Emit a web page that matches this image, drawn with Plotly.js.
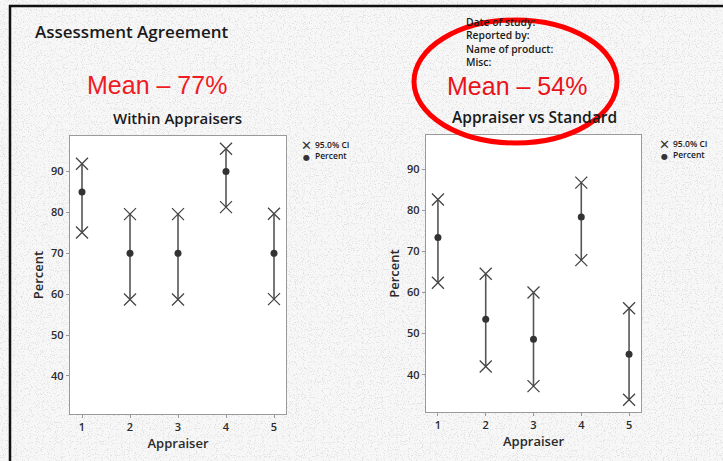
<!DOCTYPE html>
<html>
<head>
<meta charset="utf-8">
<script src="https://cdn.plot.ly/plotly-3.0.1.min.js"></script>
<style>
  html, body { margin: 0; padding: 0; width: 723px; height: 461px; overflow: hidden; }
  body {
    background-color: #f7f7f7;
    background-image: url("data:image/svg+xml;utf8,<svg xmlns='http://www.w3.org/2000/svg' width='723' height='461'><filter id='n'><feTurbulence type='fractalNoise' baseFrequency='0.85' numOctaves='2' seed='3' stitchTiles='stitch'/><feColorMatrix type='matrix' values='0 0 0 0 0.6  0 0 0 0 0.6  0 0 0 0 0.6  0 0 0 10 -5.8'/></filter><rect width='100%' height='100%' filter='url(%23n)' opacity='0.45'/></svg>");
  }
  #chart { width: 723px; height: 461px; }
</style>
</head>
<body>
<div id="chart"></div>
<script>
// ---- data ----
var appraisers = [1, 2, 3, 4, 5];
var tickValsX = [1, 2, 3, 4, 5];
var tickValsY = [40, 50, 60, 70, 80, 90];

var withinPercent = [85, 70, 70, 90, 70];
var withinLower   = [75.1, 58.7, 58.7, 81.3, 58.8];
var withinUpper   = [91.9, 79.6, 79.6, 95.6, 79.7];

var vsStdPercent = [73.4, 53.5, 48.6, 78.4, 45.0];
var vsStdLower   = [62.4, 42.0, 37.2, 67.9, 33.9];
var vsStdUpper   = [82.7, 64.6, 60.0, 86.8, 56.2];

var mainTitle = "Assessment Agreement";
var leftTitle = "Within Appraisers";
var rightTitle = "Appraiser vs Standard";
var leftMean = "Mean – 77%";
var rightMean = "Mean – 54%";
var headerLines = ["Date of study:", "Reported by:", "Name of product:", "Misc:"];
var legendCI = "95.0% CI";
var legendPct = "Percent";

// ---- helpers ----
var W = 723, H = 461;
function px(x) { return x / W; }
function py(y) { return 1 - y / H; }
var FONT = "Open Sans, DejaVu Sans, sans-serif";
var DARK = "#2a2a2a";

function minus(a, b) { return a.map(function (v, i) { return v - b[i]; }); }

function panelTraces(pct, lo, hi, xa, ya) {
  var ciX = [], ciY = [];
  appraisers.forEach(function (a, i) { ciX.push(a, a); ciY.push(lo[i], hi[i]); });
  return [
    {
      type: "scatter", mode: "markers", x: appraisers, y: pct, xaxis: xa, yaxis: ya,
      marker: { symbol: "circle", size: 7, color: "#333" },
      error_y: { type: "data", symmetric: false, array: minus(hi, pct), arrayminus: minus(pct, lo),
                 color: "#555", thickness: 1.6, width: 0 },
      showlegend: false, hoverinfo: "x+y"
    },
    {
      type: "scatter", mode: "markers", x: ciX, y: ciY, xaxis: xa, yaxis: ya,
      marker: { symbol: "x-thin-open", size: 12, color: "#444", line: { color: "#444", width: 1.3 } },
      showlegend: false, hoverinfo: "x+y"
    }
  ];
}

var data = [].concat(
  panelTraces(withinPercent, withinLower, withinUpper, "x", "y"),
  panelTraces(vsStdPercent, vsStdLower, vsStdUpper, "x2", "y2")
);

function xAxis(domain, anchor) {
  return {
    domain: domain, anchor: anchor, range: [0.75, 5.25], tickvals: tickValsX,
    showgrid: false, zeroline: false, showline: true, mirror: true,
    linecolor: "#9a9a9a", linewidth: 1.2, ticks: "outside", ticklen: 3, tickcolor: "#9a9a9a",
    tickfont: { family: FONT, size: 11, color: DARK, weight: 600 },
    title: { text: "Appraiser", standoff: 2, font: { family: FONT, size: 13, color: DARK, weight: 600 } }
  };
}
function yAxis(domain, anchor, range) {
  return {
    domain: domain, anchor: anchor, range: range, tickvals: tickValsY,
    showgrid: false, zeroline: false, showline: true, mirror: true,
    linecolor: "#9a9a9a", linewidth: 1.2, ticks: "outside", ticklen: 3, tickcolor: "#9a9a9a",
    tickfont: { family: FONT, size: 11, color: DARK, weight: 600 },
    title: { text: "Percent", standoff: 4, font: { family: FONT, size: 13, color: DARK, weight: 600 } }
  };
}

var annotations = [
  { text: mainTitle, x: px(33), y: py(31), xanchor: "left", yanchor: "middle",
    font: { family: FONT, size: 17, color: "#1a1a1a", weight: 600 } },
  { text: leftMean, x: px(157), y: py(85), xanchor: "center", yanchor: "middle",
    font: { family: "Liberation Sans, Arial, sans-serif", size: 25, color: "#ee1c25" } },
  { text: rightMean, x: px(517), y: py(86), xanchor: "center", yanchor: "middle",
    font: { family: "Liberation Sans, Arial, sans-serif", size: 25, color: "#e8141c" } },
  { text: leftTitle, x: px(177), y: py(118), xanchor: "center", yanchor: "middle",
    font: { family: FONT, size: 15, color: "#1a1a1a", weight: 600 } },
  { text: rightTitle, x: px(534), y: py(117), xanchor: "center", yanchor: "middle",
    font: { family: FONT, size: 15.5, color: "#1a1a1a", weight: 600 } },
  { text: headerLines.join("<br>"), x: px(465), y: py(42), xanchor: "left", yanchor: "middle",
    align: "left", borderpad: 0,
    font: { family: FONT, size: 10.3, color: "#1a1a1a", weight: 600 } }
];
function legendAnn(xm, xt, yc) {
  annotations.push(
    { text: "<span style='font-size:13px'>✕</span><br>●", x: px(xm), y: py(yc), xanchor: "center", yanchor: "middle",
      align: "center", borderpad: 0,
      font: { family: "DejaVu Sans", size: 8, color: "#333" } },
    { text: legendCI + "<br>" + legendPct, x: px(xt), y: py(yc), xanchor: "left", yanchor: "middle",
      align: "left", borderpad: 0,
      font: { family: FONT, size: 8.5, color: "#1a1a1a", weight: 600 } }
  );
}
legendAnn(306, 314, 149.5);
legendAnn(664, 672, 148.5);
annotations.forEach(function (a) { a.xref = "paper"; a.yref = "paper"; a.showarrow = false; });

var shapes = [
  { type: "line", xref: "paper", yref: "paper", x0: px(10), x1: px(10), y0: 0, y1: py(5),
    line: { color: "#111", width: 2.5 } },
  { type: "line", xref: "paper", yref: "paper", x0: px(9), x1: 1, y0: py(6), y1: py(6),
    line: { color: "#111", width: 2.5 } },
  { type: "circle", xref: "paper", yref: "paper", x0: px(414), x1: px(617), y0: py(143), y1: py(20),
    line: { color: "#ff0000", width: 5 } }
];

var layout = {
  width: W, height: H,
  margin: { l: 0, r: 0, t: 0, b: 0 },
  paper_bgcolor: "rgba(0,0,0,0)",
  plot_bgcolor: "#ffffff",
  showlegend: false,
  xaxis: xAxis([px(70), px(286)], "y"),
  yaxis: yAxis([py(414), py(136)], "x", [30.7, 98.7]),
  xaxis2: xAxis([px(426), px(641)], "y2"),
  yaxis2: yAxis([py(412), py(135)], "x2", [30.9, 98.4]),
  annotations: annotations,
  shapes: shapes
};

Plotly.newPlot("chart", data, layout, { displayModeBar: false, staticPlot: true });
</script>
</body>
</html>
